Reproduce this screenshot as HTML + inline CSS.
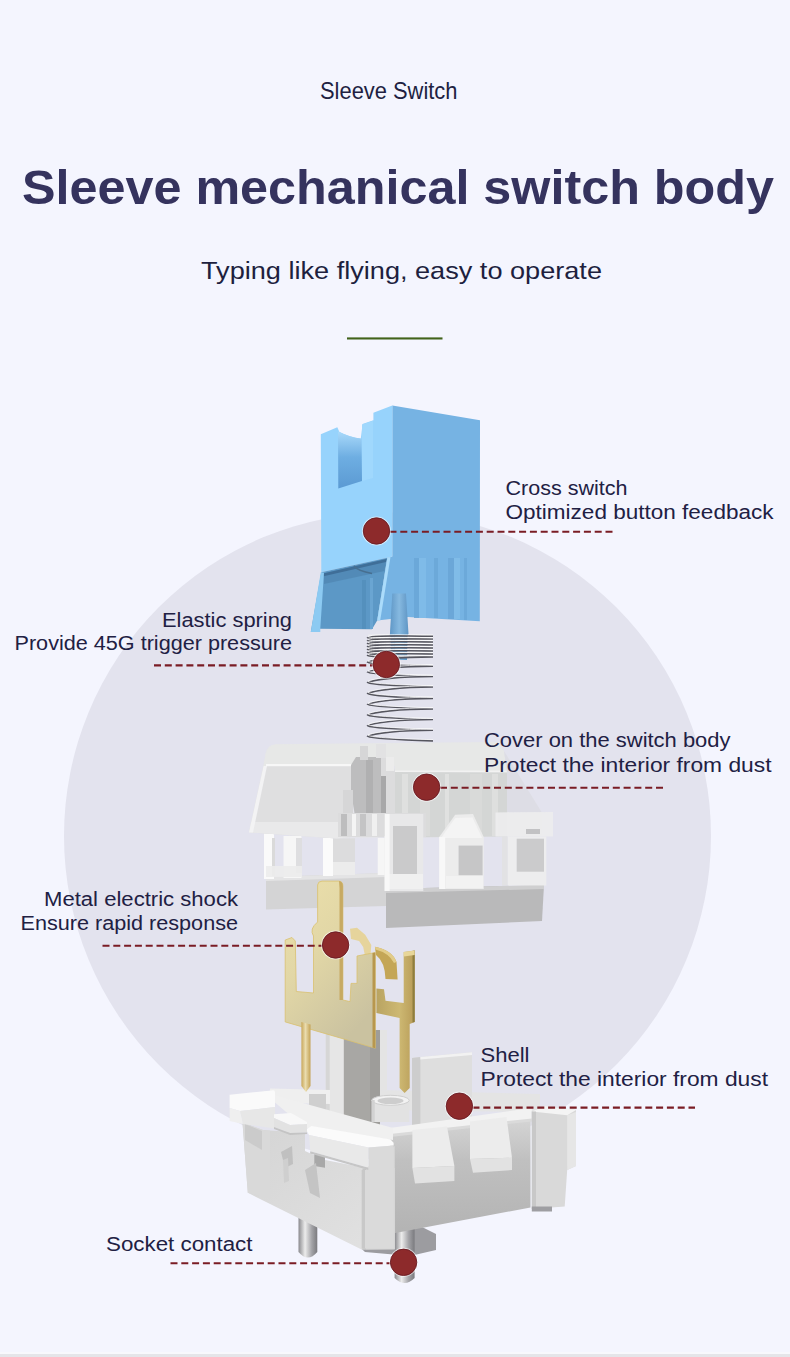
<!DOCTYPE html>
<html><head><meta charset="utf-8"><title>Sleeve Switch</title>
<style>
html,body{margin:0;padding:0;background:#f4f5fe;}
body{width:790px;height:1357px;overflow:hidden;position:relative;font-family:"Liberation Sans",sans-serif;}
svg{position:absolute;left:0;top:0;display:block;}
.lb{font-family:"Liberation Sans",sans-serif;font-size:20px;fill:#212043;}
</style></head>
<body>
<svg width="790" height="1357" viewBox="0 0 790 1357">
<rect x="0" y="0" width="790" height="1357" fill="#f4f5fe"/>
<rect x="0" y="1352" width="790" height="2" fill="#f8f8fc"/><rect x="0" y="1354" width="790" height="3" fill="#e5e5e9"/>
<circle cx="387.5" cy="836" r="323.5" fill="#e3e3ee"/>

<!-- header -->
<text x="320" y="98.6" font-size="24" textLength="137.5" lengthAdjust="spacingAndGlyphs" fill="#211f42" font-family="Liberation Sans">Sleeve Switch</text>
<text x="22" y="203.5" font-size="48.5" font-weight="700" textLength="752" lengthAdjust="spacingAndGlyphs" fill="#35335e" font-family="Liberation Sans">Sleeve mechanical switch body</text>
<text x="201" y="279.4" font-size="24.4" textLength="401" lengthAdjust="spacingAndGlyphs" fill="#201f3e" font-family="Liberation Sans">Typing like flying, easy to operate</text>
<rect x="347" y="337.4" width="95.5" height="2.1" fill="#41631a"/>

<!-- PARTS -->
<g id="parts">
<g id="cover">
<!-- bottom plates -->
<polygon points="266,877 386,873 386,906 266,909.5" fill="#d4d4d5"/>
<polygon points="266,877 386,873 386,877 266,881" fill="#e4e4e5"/>
<polygon points="386,889 544,885 542,921 386,928" fill="#b9b9ba"/>
<polygon points="386,889 544,885 544,889 386,893" fill="#cfcfd0"/>
<!-- legs left -->
<rect x="264" y="833" width="10" height="46" fill="#fafafa"/>
<rect x="272" y="838" width="3" height="38" fill="#dadada"/>
<rect x="283.5" y="836" width="18" height="42" fill="#f6f6f6"/>
<rect x="296" y="838" width="6" height="35" fill="#dedee0"/>
<rect x="266" y="866" width="36" height="11" fill="#ececec" opacity="0.9"/>
<rect x="323" y="838" width="10" height="38" fill="#fbfbfb"/>
<rect x="333" y="838" width="22" height="37" fill="#dcdcdd"/>
<rect x="333" y="862" width="22" height="13" fill="#ececec"/>
<rect x="377.7" y="838" width="8.3" height="37" fill="#f6f6f6"/>
<!-- main upper block: translucent silhouette -->
<path d="M249,832.5 L265.5,754 Q267.5,744.5 276,744.3 L498.5,742 L541.5,812 L541.5,836 L337,838.5 Z" fill="#e4e4ea"/>
<!-- left front face -->
<path d="M249,832.5 L263.5,766 L352,765 L352,837 L337,838.5 Z" fill="#dfdfe0"/>
<polygon points="251,822 350,822 350,837 337,838.5 249,832.5" fill="#e9e9ea"/>
<!-- top face -->
<path d="M263.5,766 L265.5,754 Q267.5,744.5 276,744.3 L498.5,742 L504,751 L507,772.5 L395,772 L395,766 Z" fill="#e7e8e7"/>
<rect x="266" y="764" width="86" height="2.2" fill="#f7f7f7"/>
<polygon points="249,832.5 263.5,766 267,766 253,832.5" fill="#f3f3f4"/>
<rect x="395" y="770.5" width="112" height="2" fill="#f2f2f2"/>
<!-- right front face (translucent) -->
<polygon points="395,772 507,772.5 507,836.5 395,837.5" fill="#d4d6d5"/>
<rect x="402" y="774" width="6" height="62" fill="#dfe0df"/>
<rect x="420" y="774" width="10" height="62" fill="#dadbda"/>
<rect x="445" y="774" width="4" height="62" fill="#e0e1e0"/>
<rect x="470" y="774" width="12" height="62" fill="#d9dad9"/>
<rect x="492" y="774" width="6" height="62" fill="#dedfde"/>
<!-- right sloped side (transparent) -->
<polygon points="498.5,742 541.5,812 507,812 507,772.5 504,751" fill="#dddde5"/>
<!-- central tower -->
<polygon points="351,765 356,757 381,757 381,816 355,816 351,792" fill="#bdbdbe"/>
<rect x="343" y="790" width="10" height="23" fill="#d6d6d7"/>
<rect x="366" y="760" width="7" height="56" fill="#b0b0b1"/>
<polygon points="381,757 391,757 395,772 395,816 381,816" fill="#dcdcdd"/>
<rect x="381" y="776" width="5" height="40" fill="#a8a8a9"/>
<rect x="386" y="757" width="8" height="14" fill="#ececec"/>
<rect x="360" y="746" width="8" height="14" fill="#d6d6d7"/>
<rect x="376" y="744" width="10" height="14" fill="#e2e2e3"/>
<!-- crossbar -->
<rect x="338" y="813" width="88" height="24" fill="#dcdcdd"/>
<rect x="341" y="814" width="6" height="22" fill="#bdbdbe"/>
<rect x="352" y="814" width="4" height="22" fill="#f4f4f4"/>
<rect x="360" y="814" width="6" height="22" fill="#c4c4c5"/>
<rect x="372" y="814" width="5" height="22" fill="#f0f0f0"/>
<rect x="384" y="814" width="6" height="22" fill="#c8c8c9"/>
<rect x="400" y="814" width="8" height="22" fill="#efefef"/>
<rect x="414" y="814" width="5" height="22" fill="#c6c6c7"/>
<!-- right columns -->
<polygon points="384.6,814 423.3,814 423.3,891 384.6,891" fill="#e8e8e9"/>
<rect x="393" y="826" width="24" height="48" fill="#cacacb"/>
<rect x="386" y="874" width="37" height="15" fill="#f0f0f0"/>
<rect x="384.6" y="814" width="5" height="77" fill="#f8f8f8"/>
<polygon points="439.2,837 455.2,814.8 473,814 483.7,837 483.7,889 439.2,889" fill="#ececec"/>
<polygon points="441,838 455.2,818 472.5,817.5 482,838" fill="#f4f4f4"/>
<rect x="439.2" y="837" width="6" height="52" fill="#f8f8f8"/>
<rect x="458.6" y="845.6" width="24" height="29.6" fill="#c6c6c7"/>
<rect x="446" y="876" width="37" height="12" fill="#f2f2f2"/>
<polygon points="495.5,812.5 553,812 553,836.5 495.5,836.5" fill="#ececed" opacity="0.95"/>
<rect x="507.6" y="836.5" width="38.7" height="49" fill="#ededee"/>
<rect x="516.7" y="838.7" width="27.3" height="33" fill="#cbcbcc"/>
<rect x="502" y="836.5" width="5.6" height="49" fill="#e2e2e4"/>
<rect x="526" y="829" width="14" height="5" fill="#c2c2c4"/>
</g>
<g id="housing-back">
<defs>
<linearGradient id="pinG" x1="0" y1="0" x2="1" y2="0"><stop offset="0" stop-color="#8a8a8e"/><stop offset="0.35" stop-color="#ececec"/><stop offset="0.7" stop-color="#a4a4a8"/><stop offset="1" stop-color="#7a7a7e"/></linearGradient>
<linearGradient id="rfG" x1="0" y1="0" x2="0" y2="1"><stop offset="0" stop-color="#d4d4d4"/><stop offset="0.35" stop-color="#c0c0c0"/><stop offset="1" stop-color="#b3b3b3"/></linearGradient>
<linearGradient id="lfG" x1="0" y1="0" x2="1" y2="1"><stop offset="0" stop-color="#d4d4d4"/><stop offset="1" stop-color="#e2e2e2"/></linearGradient>
</defs>
<!-- central guide post -->
<rect x="325.7" y="1030" width="18.5" height="96" fill="#e6e6e6"/>
<rect x="325.7" y="1030" width="4" height="96" fill="#d6d6d6"/>
<rect x="343.8" y="1030" width="36.2" height="96" fill="#a8a7a4"/>
<rect x="370" y="1030" width="10" height="96" fill="#9e9d9a"/>
<rect x="380" y="1030" width="7" height="60" fill="#e4e4e4"/>
<!-- back wall top -->
<polygon points="270,1088.5 330,1090 330,1104 270,1102.4" fill="#efefef"/>
<polygon points="309,1094 326,1094 326,1114 309,1114" fill="#cfcfcf"/>
<polygon points="380,1090 540,1094 540,1112 380,1110" fill="#e4e4e4"/>
<!-- pins -->
<path d="M298.5,1205 L317.3,1205 L317.3,1252 Q307.9,1263 298.5,1252 Z" fill="url(#pinG)"/>
<polygon points="350,1238 420,1226 436,1234 436,1250 410,1256 365,1252" fill="#9c9ca0"/>
<path d="M394.6,1225 L414.6,1225 L414.6,1278 Q404.6,1288 394.6,1278 Z" fill="url(#pinG)"/>
</g>
<g id="gold">
<defs>
<linearGradient id="goldF" x1="0" y1="0" x2="0.6" y2="1"><stop offset="0" stop-color="#ece0ab"/><stop offset="0.45" stop-color="#e2d7a6"/><stop offset="1" stop-color="#cac2a0"/></linearGradient>
<linearGradient id="goldR" x1="0" y1="0" x2="1" y2="0"><stop offset="0" stop-color="#b9a462"/><stop offset="0.6" stop-color="#cdb872"/><stop offset="1" stop-color="#b89c58"/></linearGradient>
<linearGradient id="goldP" x1="0" y1="0" x2="1" y2="0"><stop offset="0" stop-color="#c8a75a"/><stop offset="0.45" stop-color="#eadcae"/><stop offset="1" stop-color="#c4a255"/></linearGradient>
</defs>
<!-- rear contact -->
<path d="M374.9,946.8 Q392,950 396.5,962 L397.6,979.5 L385.5,979 Q385,962 376,955 Z" fill="#c4a656"/>
<path d="M374.9,946.8 Q392,950 396.5,962 L394,963 Q389,953 375.5,949.5 Z" fill="#e2cc88"/>
<path d="M376.4,988.6 L384,989.3 L385.5,1000.7 L403.7,1003 L403.7,952 L414.7,950.6 L414.7,1022 L409.7,1024 L409.7,1088 L404.6,1093 L399.6,1088 L399.6,1018 L376.4,1013 Z" fill="url(#goldR)"/>
<path d="M412.5,951 L414.7,950.6 L414.7,1022 L412.5,1022.5 Z" fill="#8f7e3e"/>
<path d="M403.7,952 L414.7,950.6 L414.7,955 L403.7,956.5 Z" fill="#e8d698"/>
<path d="M350,928.7 L357,927.7 L365.2,934.8 L371.3,945 L370.3,957 L365.2,957 L363.2,947 L359.1,940.9 L351,938.9 Z" fill="#e6d49c"/>
<!-- front plate -->
<path d="M285.2,940 L292,937.5 L295.3,941 L296.3,991.5 L313.5,993 L313.5,936 Q309,929 317.6,922 L317.6,885 Q318,881.2 322,881.1 L339,881.1 Q342.9,881.5 342.9,886 L342.9,1000 L350,1001.6 L351,983.4 L357,983.4 L357,956 L375.3,952.5 L375.3,1048.2 L285.2,1021.9 Z" fill="url(#goldF)" stroke="#d9c070" stroke-width="0.8"/>
<path d="M339,881.1 Q342.9,881.5 342.9,886 L342.9,1000 L339.5,1000 L339.5,888 Z" fill="#c7aa62"/>
<path d="M372.5,953 L375.3,952.5 L375.3,1048.2 L372.5,1047.5 Z" fill="#b8974e"/>
<path d="M301.4,1022 L310.5,1024.5 L310.5,1086 L306,1092 L301.4,1086 Z" fill="url(#goldP)"/>
</g>
<g id="housing-front">
<!-- cylinder -->
<path d="M371.7,1100 L371.7,1122 L409.3,1122 L409.3,1100 Z" fill="#e2e2e2"/>
<ellipse cx="390.5" cy="1100.3" rx="18.8" ry="5" fill="#f2f2f2" stroke="#cfcfcf" stroke-width="1"/>
<ellipse cx="390.5" cy="1100.8" rx="13" ry="3.3" fill="#cdcdcd"/>
<rect x="371.7" y="1100" width="3" height="22" fill="#d2d2d2"/>
<!-- shell upright -->
<polygon points="412,1057.9 420.4,1057 472,1052.3 472,1122 412,1126" fill="#dedede"/>
<polygon points="412,1057.9 420.4,1057 420.4,1125.5 412,1126" fill="#cdcdcd"/>
<polygon points="420.4,1057 472,1052.3 472,1055 420.4,1059.5" fill="#f2f2f2"/>
<!-- right face (wall) -->
<polygon points="390,1133 530.5,1120.4 530.5,1207.5 390,1234" fill="url(#rfG)"/>
<!-- right rim band -->
<polygon points="390,1128 531.8,1108 531.8,1120.4 390,1136" fill="#f2f2f2"/>
<polygon points="390,1134 531.8,1118.4 531.8,1121.4 390,1137" fill="#dadada"/>
<!-- right end block -->
<polygon points="531.8,1111.5 545,1106 576,1110 576,1166 567.2,1170 564.7,1206.5 531.8,1209" fill="#d9d9d9"/>
<polygon points="567.2,1115.3 576,1112 576,1166 567.2,1170" fill="#e6e6e6"/>
<polygon points="531.8,1111.5 545,1106 576,1110 567.2,1115.3" fill="#f4f4f4"/>
<polygon points="531.8,1111.5 536,1111.5 536,1209 531.8,1209" fill="#c8c8c8"/>
<polygon points="531.8,1206.5 552,1206.5 552,1211.5 531.8,1211.5" fill="#9e9ea2"/>
<!-- tabs -->
<polygon points="412.4,1130 447,1126.6 454.4,1166 412.4,1168" fill="#ececec"/>
<polygon points="412.4,1168 454.4,1166 454.4,1181 415,1183.4" fill="#e2e2e2"/>
<polygon points="470,1121.6 506.5,1117 512,1157.8 470,1159" fill="#ececec"/>
<polygon points="470,1159 512,1157.8 512,1170 473,1172.7" fill="#e2e2e2"/>
<!-- left wall top rail -->
<polygon points="263,1090.6 272.1,1094.4 393,1128 393,1140 305,1128 272,1100" fill="#f0f0f0"/>
<!-- left body face -->
<polygon points="242.5,1122.5 263,1130.1 305,1133 305,1151 325,1160 366,1168 394.8,1168 394.8,1249 361.5,1249.6 252.2,1195 247.8,1192.8" fill="url(#lfG)"/>
<polygon points="242.5,1122.5 263,1130.1 270,1130.5 270,1199 247.8,1192.8" fill="#d9d9d9"/>
<polygon points="245,1124 262,1131 262,1150 245,1140" fill="#c4c4c4" opacity="0.7"/>
<!-- front-right strip of corner -->
<polygon points="366,1168 394.8,1146 394.8,1249.6 366,1249.6" fill="#d6d6d6"/>
<polygon points="362.5,1168.6 366,1168.6 366,1249.6 362.5,1249.6" fill="#c6c6c6"/>
<!-- small clips on left face -->
<polygon points="281,1152 292,1146 293,1164 285,1168" fill="#c0c0c0"/>
<polygon points="283,1160 288,1158 289,1181 284,1183" fill="#cfcfcf"/>
<polygon points="314.3,1154 325,1156 325,1167.7 314.3,1166" fill="#a8a8a8"/>
<polygon points="305,1170 316,1163 320,1198 310,1193" fill="#c4c4c4"/>
<!-- front corner clip -->
<polygon points="306,1129.6 311.5,1126 390.5,1139.6 393.6,1142.7 393.6,1145.5 368.5,1147.5 309,1135" fill="#fbfbfb"/>
<polygon points="309,1135 368.5,1147.5 368.5,1167.7 310.3,1151.2" fill="#e9e9e9"/>
<polygon points="310.3,1151.2 368.5,1167.7 368.5,1170 310,1153.5" fill="#c6c6c6"/>
<polygon points="368.5,1147.5 393.6,1145.5 393.6,1248.6 361.7,1248.6 361.7,1170 368.5,1170" fill="#dadada"/>
<polygon points="361.7,1170 365,1170 365,1248.6 361.7,1248.6" fill="#c8c8c8"/>
<!-- left rim block -->
<polygon points="229.6,1094.8 274,1090.3 275,1092 275,1107 240,1111 229.6,1108" fill="#fafafa"/>
<polygon points="240,1111 275,1107 275,1128.5 243,1124" fill="#e7e7e7"/>
<polygon points="229.6,1108 240,1111 243,1124 229.6,1121" fill="#efefef"/>
<!-- small clip -->
<polygon points="274,1114.2 291,1113 307,1122 307,1124 290,1125 274,1118" fill="#f8f8f8"/>
<polygon points="274,1118 290,1125 307,1124 307,1132.4 290,1133 274,1127" fill="#e2e2e2"/>
<polygon points="274,1127 290,1133 307,1132.4 307,1134 290,1135 274,1129" fill="#c4c4c4"/>
</g>
<g id="stem">
<defs>
<linearGradient id="notchG" x1="0" y1="0" x2="0" y2="1"><stop offset="0" stop-color="#a9d9fa"/><stop offset="0.45" stop-color="#6eaee2"/><stop offset="1" stop-color="#5b9ad3"/></linearGradient>
<linearGradient id="poleG" x1="0" y1="0" x2="1" y2="0"><stop offset="0" stop-color="#5f97c6"/><stop offset="0.5" stop-color="#86b9e0"/><stop offset="1" stop-color="#5e95c4"/></linearGradient>
</defs>
<!-- right face -->
<polygon points="392.3,405.4 480,420.3 479.8,621.3 408,617 377.2,620.4 387.3,557.7 392.3,556.5" fill="#76b3e3"/>
<!-- ribs on right wing -->
<g opacity="0.9">
<rect x="414" y="558" width="5" height="60" fill="#6aa7d8"/>
<rect x="419" y="558" width="7" height="60" fill="#80bce9"/>
<rect x="434" y="558" width="4" height="60" fill="#6ba8d9"/>
<rect x="448" y="558" width="6" height="61" fill="#6aa6d7"/>
<rect x="454" y="558" width="6" height="61" fill="#82bee9"/>
<rect x="464" y="558" width="3" height="62" fill="#6ca9da"/>
</g>
<!-- front face -->
<path d="M320.8,434.2 L337.3,427.2 L339.3,431.8 Q350,437.5 360.8,438.6 L362.6,424 L373.4,420.3 L373.4,412.7 L392.3,405.4 L392.3,556.5 L387.3,557.7 L321.3,572.3 Z" fill="#97d3fc"/>
<!-- notch recess -->
<path d="M338,431.5 Q350,437.5 361.5,438.8 L362,481 L338.3,488.6 Z" fill="url(#notchG)"/>
<path d="M362,424.5 L373,420.8 L373,478 L362,481 Z" fill="#a0d8fd"/>
<!-- skirt -->
<polygon points="321.3,572.3 387.3,557.7 377.2,620.4 372,629.2 319.2,628.8 319.2,631.8 310.8,631.8" fill="#5c98c6"/>
<polygon points="323,573.5 386.5,559 384.5,571 324,584" fill="#5087b3" opacity="0.8"/>
<polygon points="323,573.5 386.5,559 386,562 323.5,576.3" fill="#3f6e98"/>
<path d="M354,566 Q358,571 372,573.5" stroke="#476f90" stroke-width="1.6" fill="none"/>
<polygon points="320.8,572.3 324,572.8 320.3,628.6 320.3,632 310.8,632" fill="#8ccaf2"/>
<polygon points="387.3,557.7 390.5,557 380.2,620.4 377.2,620.4" fill="#abdcfb"/>
<rect x="362" y="580" width="4" height="49" fill="#5490bd"/>
<rect x="370" y="578" width="3" height="51" fill="#6aa5d2"/>
<!-- pole -->
<polygon points="392.3,593.4 406,593.4 408.6,636 389.8,636" fill="url(#poleG)"/>
</g>
<polygon points="390.5,636 407.5,636 407,660 391,660" fill="url(#poleG)"/>
<g id="spring" fill="none">
<rect x="368" y="634" width="20" height="24" fill="#e9e9ee" opacity="0.6"/><rect x="408" y="634" width="25" height="24" fill="#e9e9ee" opacity="0.6"/>
<path d="M433,636.1 C400,636.1 372,634.7 368,637.7 C372,640.2 400,637.9 433,638.9 C400,638.9 372,637.6 368,640.6 C372,643.1 400,640.8 433,641.8 C400,641.8 372,640.5 368,643.5 C372,646.0 400,643.8 433,644.8 C400,644.8 372,643.5 368,646.5 C372,649.0 400,646.8 433,647.8 C400,647.8 372,646.5 368,649.5 C372,652.0 400,649.8 433,650.8 C400,650.8 372,649.5 368,652.5 C372,655.0 400,652.8 433,653.8 C400,653.8 372,652.5 368,655.5 C372,658.0 400,655.8 433,656.8 C400,656.8 372,659.2 368,662.2 C372,664.7 400,665.1 433,666.1 C400,666.1 372,669.1 368,672.1 C372,674.6 400,675.4 433,676.4 C400,676.4 372,679.5 368,682.5 C372,685.0 400,685.9 433,686.9 C400,686.9 372,690.5 368,693.5 C372,696.0 400,697.3 433,698.3 C400,698.3 372,701.4 368,704.4 C372,706.9 400,707.9 433,708.9 C400,708.9 372,712.0 368,715.0 C372,717.5 400,718.5 433,719.5 C400,719.5 372,722.7 368,725.7 C372,728.2 400,729.2 433,730.2 C400,730.2 372,733.3 368,736.3 C372,738.8 400,739.8 433,740.8" stroke="#55555e" stroke-width="1.7"/>
<path d="M433,635.0 C400,635.0 372,633.6 368,636.6 C372,639.1 400,636.8 433,637.8 C400,637.8 372,636.5 368,639.5 C372,642.0 400,639.7 433,640.7 C400,640.7 372,639.4 368,642.4 C372,644.9 400,642.7 433,643.7 C400,643.7 372,642.4 368,645.4 C372,647.9 400,645.7 433,646.7 C400,646.7 372,645.4 368,648.4 C372,650.9 400,648.7 433,649.7 C400,649.7 372,648.4 368,651.4 C372,653.9 400,651.7 433,652.7 C400,652.7 372,651.4 368,654.4 C372,656.9 400,654.7 433,655.7 C400,655.7 372,658.1 368,661.1 C372,663.6 400,664.0 433,665.0 C400,665.0 372,668.0 368,671.0 C372,673.5 400,674.3 433,675.3 C400,675.3 372,678.4 368,681.4 C372,683.9 400,684.8 433,685.8 C400,685.8 372,689.4 368,692.4 C372,694.9 400,696.2 433,697.2 C400,697.2 372,700.3 368,703.3 C372,705.8 400,706.8 433,707.8 C400,707.8 372,710.9 368,713.9 C372,716.4 400,717.4 433,718.4 C400,718.4 372,721.6 368,724.6 C372,727.1 400,728.1 433,729.1 C400,729.1 372,732.2 368,735.2 C372,737.7 400,738.7 433,739.7" stroke="#ffffff" stroke-width="0.8" opacity="0.9"/>
</g>
</g>

<!-- labels -->
<text class="lb" x="505.5" y="495" textLength="122" lengthAdjust="spacingAndGlyphs">Cross switch</text>
<text class="lb" x="505.5" y="518.5" textLength="268" lengthAdjust="spacingAndGlyphs">Optimized button feedback</text>
<text class="lb" x="162" y="626.7" textLength="130" lengthAdjust="spacingAndGlyphs">Elastic spring</text>
<text class="lb" x="14.5" y="650" textLength="277.5" lengthAdjust="spacingAndGlyphs">Provide 45G trigger pressure</text>
<text class="lb" x="484" y="747" textLength="246.5" lengthAdjust="spacingAndGlyphs">Cover on the switch body</text>
<text class="lb" x="484" y="771.5" textLength="287.5" lengthAdjust="spacingAndGlyphs">Protect the interior from dust</text>
<text class="lb" x="44" y="906" textLength="194" lengthAdjust="spacingAndGlyphs">Metal electric shock</text>
<text class="lb" x="20.5" y="929.7" textLength="217.5" lengthAdjust="spacingAndGlyphs">Ensure rapid response</text>
<text class="lb" x="480.5" y="1061.6" textLength="49" lengthAdjust="spacingAndGlyphs">Shell</text>
<text class="lb" x="480.5" y="1086" textLength="287.5" lengthAdjust="spacingAndGlyphs">Protect the interior from dust</text>
<text class="lb" x="106" y="1251" textLength="146.5" lengthAdjust="spacingAndGlyphs">Socket contact</text>

<!-- dashed leaders -->
<g stroke="#7a1c24" stroke-width="2.1" stroke-dasharray="7 3.8" fill="none">
<line x1="389.5" y1="531.8" x2="612.5" y2="531.8"/>
<line x1="154" y1="665.4" x2="375" y2="665.4"/>
<line x1="440" y1="787.8" x2="663" y2="787.8"/>
<line x1="102.5" y1="945.8" x2="324" y2="945.8"/>
<line x1="472.5" y1="1107.6" x2="695" y2="1107.6"/>
<line x1="170.5" y1="1263.2" x2="392" y2="1263.2"/>
</g>
<g fill="#ffffff" opacity="0.55">
<circle cx="376.5" cy="531" r="14.6"/>
<circle cx="386.3" cy="664.5" r="14.6"/>
<circle cx="426.6" cy="787.2" r="14.6"/>
<circle cx="335.6" cy="945" r="14.6"/>
<circle cx="459.4" cy="1106.2" r="14.6"/>
<circle cx="403.6" cy="1262.3" r="14.6"/>
</g>
<g fill="#8d2a2b" stroke="#6a1b22" stroke-width="0.9">
<circle cx="376.5" cy="531" r="13.2"/>
<circle cx="386.3" cy="664.5" r="13.2"/>
<circle cx="426.6" cy="787.2" r="13.2"/>
<circle cx="335.6" cy="945" r="13.2"/>
<circle cx="459.4" cy="1106.2" r="13.2"/>
<circle cx="403.6" cy="1262.3" r="13.2"/>
</g>
</svg>
</body></html>
